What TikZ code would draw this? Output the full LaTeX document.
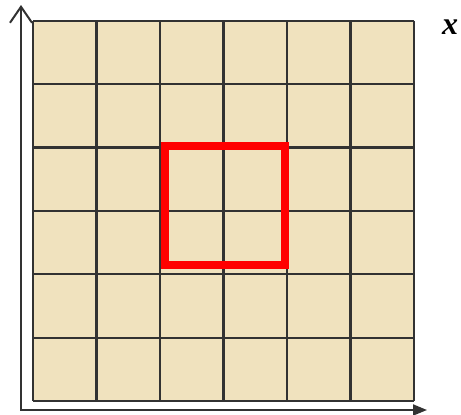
\documentclass[tikz,border=0pt]{standalone}
\usepackage{fontspec}
\setmainfont{Liberation Serif}
\usetikzlibrary{arrows.meta}
\definecolor{cellfill}{RGB}{240,226,190}
\definecolor{gridline}{RGB}{50,50,50}
\definecolor{redbox}{RGB}{255,0,0}
\tikzset{
  cell/.style={draw=gridline, line width=2.2pt},
  axis/.style={draw=gridline, line width=2pt},
  sel/.style={draw=redbox, line width=8pt},
}
\begin{document}
\begin{tikzpicture}[x=1pt,y=-1pt]
\useasboundingbox (0,0) rectangle (461,415);
% grid background
\fill[cellfill] (33,20.7) rectangle (414,401);
\foreach \i in {0,...,6}{
  \draw[cell] (33+\i*63.5,20.7) -- (33+\i*63.5,401);
  \draw[cell] (33,20.7+\i*63.4) -- (414,20.7+\i*63.4);
}
% red selection square
\coordinate (r1) at (165,146);
\coordinate (r2) at (285,265);
\draw[sel] (r1) rectangle (r2);
% axes
\coordinate (o) at (21,410);
\coordinate (ytop) at (21,5);
\coordinate (xend) at (427,410);
\draw[axis,-{Straight Barb[length=16pt,width=22pt,line width=2pt]}] (o) -- (ytop);
\draw[axis,-{Triangle[length=14pt,width=11pt]}] ([xshift=-1pt]o) -- (xend);
\node[font=\fontsize{32}{32}\selectfont\bfseries\itshape, text=black] (lx) at (450,27) {x};
\end{tikzpicture}
\end{document}
